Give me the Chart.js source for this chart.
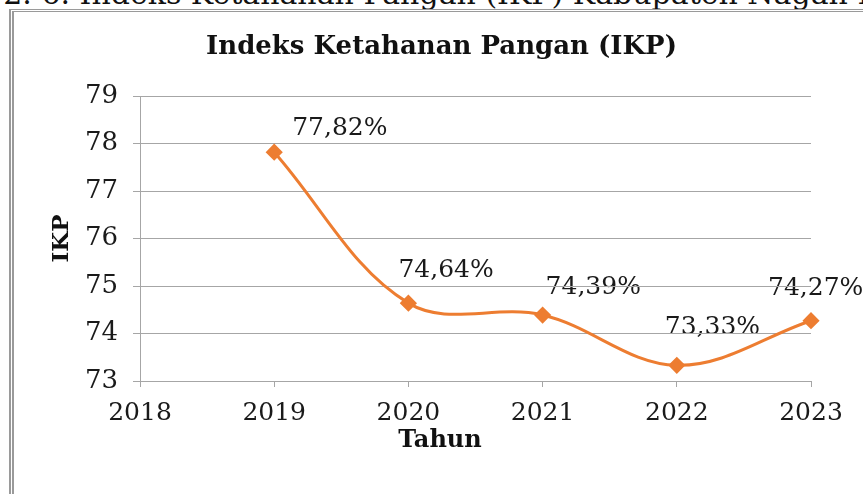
<!DOCTYPE html>
<html>
<head>
<meta charset="utf-8">
<script src="https://cdn.jsdelivr.net/npm/chart.js@4/dist/chart.umd.min.js"></script>
<style>
  html, body { margin: 0; padding: 0; background: #fff; overflow: hidden; }
  body { width: 863px; height: 494px; position: relative; }
  #caption { position: absolute; left: 0; top: -21px; font: 30px/30px "DejaVu Serif", serif; color: #111; white-space: nowrap; }
  #frame { position: absolute; left: 9px; top: 9px; width: 1000px; height: 600px; border-left: 5px double #9a9a9a; border-top: 3px double #9a9a9a; }
  #wrap { position: absolute; left: 0; top: 0; width: 863px; height: 494px; }
</style>
</head>
<body>
<div id="caption">Gambar 2. 6. Indeks Ketahanan Pangan (IKP) Kabupaten Nagan Raya</div>
<div id="frame"></div>
<div id="wrap"><canvas id="c" width="863" height="494"></canvas></div>
<script>
const years = [2019, 2020, 2021, 2022, 2023];
const ikpValues = [77.82, 74.64, 74.39, 73.33, 74.27];
const yTicks = [73, 74, 75, 76, 77, 78, 79];
const xTicks = [2018, 2019, 2020, 2021, 2022, 2023];
const chartTitle = 'Indeks Ketahanan Pangan (IKP)';
const xTitle = 'Tahun';
const yTitle = 'IKP';

const SERIF = '"DejaVu Serif", serif';
const gridGray = '#a6a6a6';
const orange = '#ED7D31';

// place the cut-off page caption above the frame
(function placeCaption() {
  const cap = document.getElementById('caption');
  const m = document.createElement('canvas').getContext('2d');
  m.font = '30px ' + SERIF;
  const prefix = m.measureText('Gambar 2. 6. ').width;
  cap.style.left = Math.round(80 - prefix) + 'px';
})();

// pixel offsets of the data labels from their points (style, not data)
const labelOffsets = [[18, -24], [-10, -33], [3, -28], [-12, -38], [-43, -32]];

const labelPlugin = {
  id: 'valueLabels',
  beforeDraw(chart) {
    const ctx = chart.ctx;
    const meta = chart.getDatasetMeta(0);
    ctx.save();
    ctx.font = '25px ' + SERIF;
    ctx.fillStyle = '#1a1a1a';
    ctx.textAlign = 'left';
    ctx.textBaseline = 'middle';
    meta.data.forEach((pt, i) => {
      const v = ikpValues[i].toFixed(2).replace('.', ',') + '%';
      ctx.fillText(v, pt.x + labelOffsets[i][0], pt.y + labelOffsets[i][1]);
    });
    ctx.restore();
  },
  afterDraw(chart) {
    const ctx = chart.ctx;
    ctx.save();
    ctx.font = 'bold 24px ' + SERIF;
    ctx.fillStyle = '#111';
    ctx.textAlign = 'center';
    ctx.textBaseline = 'middle';
    ctx.fillText(xTitle, 440, 441);
    ctx.restore();
  }
};

new Chart(document.getElementById('c'), {
  type: 'line',
  data: {
    datasets: [{
      data: years.map((y, i) => ({ x: y, y: ikpValues[i] })),
      borderColor: orange,
      backgroundColor: orange,
      borderWidth: 3,
      tension: 0.36,
      pointStyle: 'rectRot',
      pointRadius: 6.5,
      pointHoverRadius: 6.5,
      pointBackgroundColor: orange,
      pointBorderColor: orange,
      clip: false
    }]
  },
  options: {
    responsive: false,
    animation: false,
    events: [],
    layout: { padding: { left: 20, right: 0, top: 0, bottom: 0 } },
    plugins: {
      legend: { display: false },
      tooltip: { enabled: false },
      title: {
        display: true,
        text: chartTitle,
        font: { family: SERIF, size: 26, weight: 'bold' },
        color: '#111',
        padding: { top: 32, bottom: 33 }
      }
    },
    scales: {
      x: {
        type: 'linear',
        min: xTicks[0],
        max: xTicks[xTicks.length - 1],
        afterBuildTicks: (s) => { s.ticks = xTicks.map(v => ({ value: v })); },
        afterFit: (s) => { s.height = 113; s.paddingRight = 52; },
        ticks: {
          callback: (v) => String(v),
          font: { family: SERIF, size: 25 },
          color: '#1a1a1a',
          padding: 11,
          maxRotation: 0,
          autoSkip: false
        },
        grid: { drawOnChartArea: false, drawTicks: true, tickLength: 6, color: gridGray },
        border: { display: true, color: gridGray, width: 1 }
      },
      y: {
        min: yTicks[0],
        max: yTicks[yTicks.length - 1],
        afterBuildTicks: (s) => { s.ticks = yTicks.map(v => ({ value: v })); },
        afterFit: (s) => { s.width = 120; },
        ticks: {
          font: { family: SERIF, size: 26 },
          color: '#1a1a1a',
          padding: 15
        },
        grid: { color: gridGray, tickLength: 7, drawTicks: true },
        border: { display: true, color: gridGray, width: 1 },
        title: {
          display: true,
          text: yTitle,
          font: { family: SERIF, size: 23, weight: 'bold' },
          color: '#111',
          padding: { top: 28, bottom: 0 }
        }
      }
    }
  },
  plugins: [labelPlugin]
});
</script>
</body>
</html>
